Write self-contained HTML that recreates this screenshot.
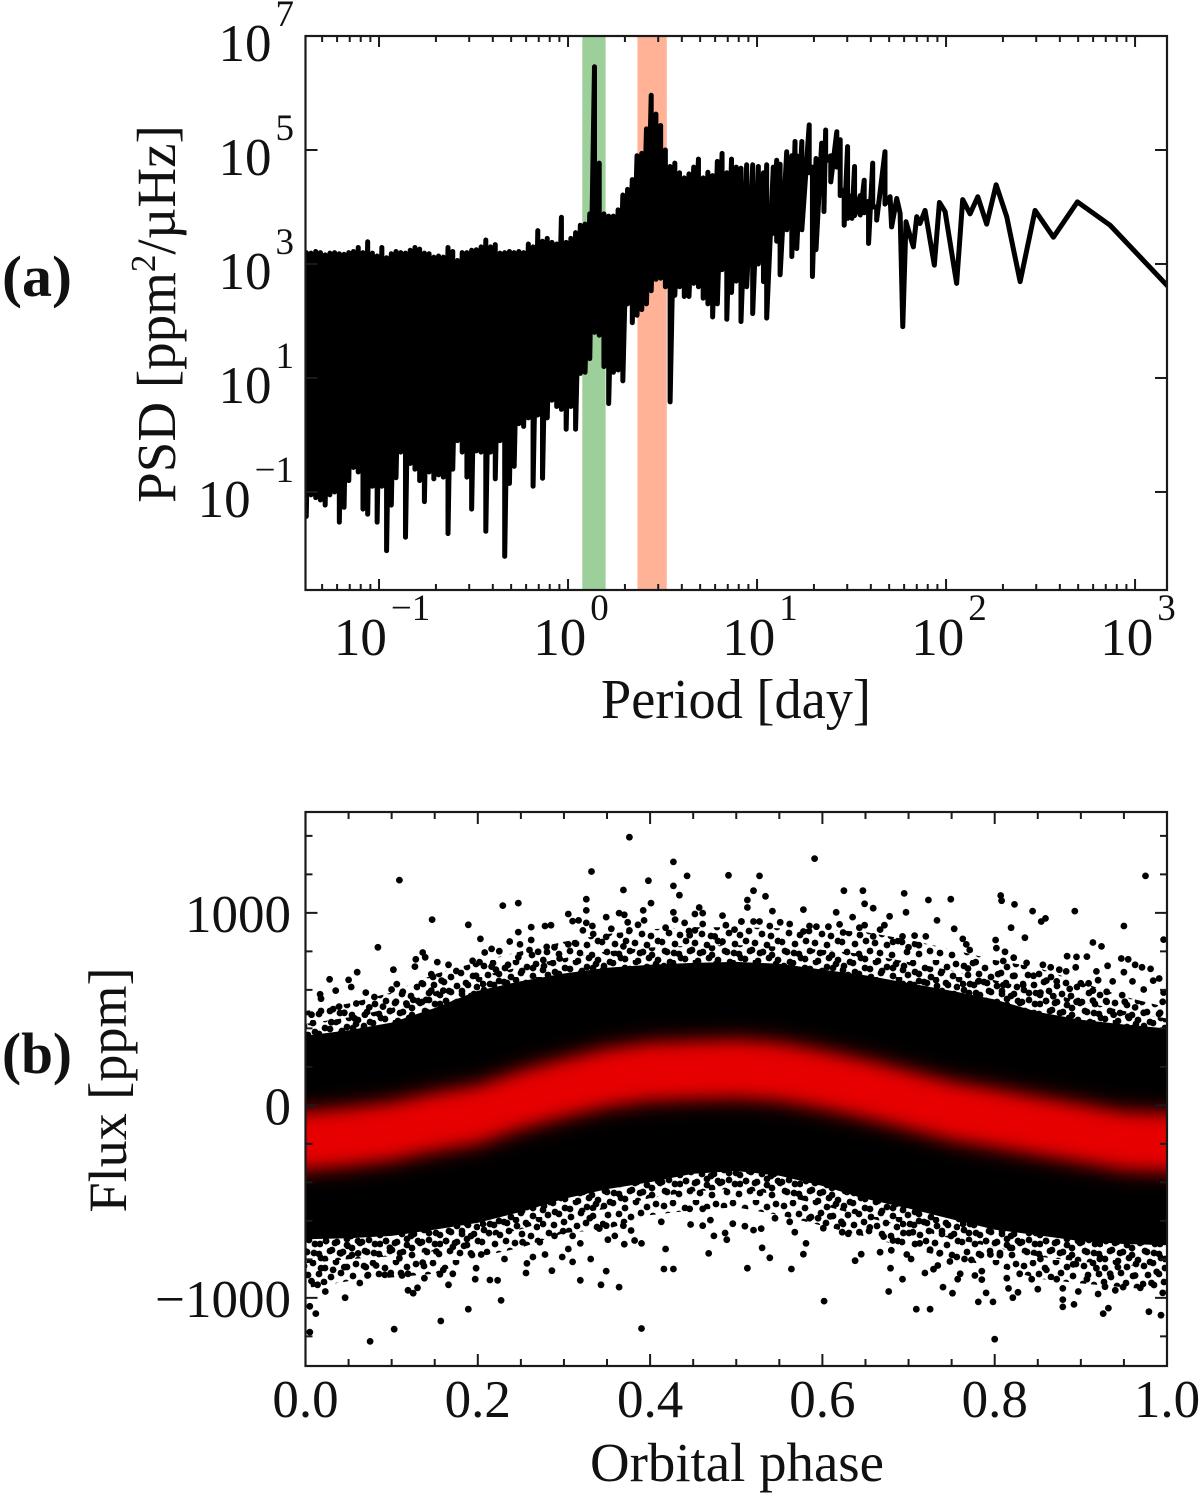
<!DOCTYPE html>
<html lang="en">
<head>
<meta charset="utf-8">
<title>PSD and phase-folded flux</title>
<style>
html,body{margin:0;padding:0;background:#fff;width:1200px;height:1493px;overflow:hidden}
svg{display:block}
text{font-family:"Liberation Serif",serif;fill:#111}
</style>
</head>
<body>
<svg id="figure" xmlns="http://www.w3.org/2000/svg" width="1200" height="1493" viewBox="0 0 1200 1493">
  <defs>
    <clipPath id="clip-a"><rect x="305.5" y="36" width="861.5" height="554"/></clipPath>
    <clipPath id="clip-b"><rect x="305.5" y="812" width="861.5" height="554"/></clipPath>
    <filter id="red-soft" x="-5%" y="-40%" width="110%" height="180%"><feGaussianBlur stdDeviation="8"/></filter>
    <filter id="red-softer" x="-5%" y="-40%" width="110%" height="180%"><feGaussianBlur stdDeviation="9"/></filter>
    <pattern id="cloud-dots" patternUnits="userSpaceOnUse" width="60" height="60">
      <g fill="#000">
        <circle cx="4" cy="6" r="3.4"/><circle cx="13" cy="3" r="3.4"/><circle cx="25" cy="8" r="3.4"/><circle cx="36" cy="2" r="3.4"/><circle cx="47" cy="7" r="3.4"/><circle cx="56" cy="4" r="3.4"/>
        <circle cx="8" cy="15" r="3.4"/><circle cx="19" cy="14" r="3.4"/><circle cx="31" cy="17" r="3.4"/><circle cx="41" cy="13" r="3.4"/><circle cx="53" cy="16" r="3.4"/>
        <circle cx="3" cy="24" r="3.4"/><circle cx="14" cy="25" r="3.4"/><circle cx="24" cy="22" r="3.4"/><circle cx="37" cy="26" r="3.4"/><circle cx="46" cy="23" r="3.4"/><circle cx="57" cy="27" r="3.4"/>
        <circle cx="9" cy="33" r="3.4"/><circle cx="20" cy="35" r="3.4"/><circle cx="29" cy="31" r="3.4"/><circle cx="42" cy="34" r="3.4"/><circle cx="51" cy="36" r="3.4"/>
        <circle cx="2" cy="42" r="3.4"/><circle cx="15" cy="44" r="3.4"/><circle cx="26" cy="41" r="3.4"/><circle cx="35" cy="43" r="3.4"/><circle cx="47" cy="45" r="3.4"/><circle cx="58" cy="41" r="3.4"/>
        <circle cx="7" cy="52" r="3.4"/><circle cx="19" cy="54" r="3.4"/><circle cx="30" cy="51" r="3.4"/><circle cx="40" cy="53" r="3.4"/><circle cx="52" cy="55" r="3.4"/>
      </g>
    </pattern>
    <pattern id="cloud-dots-shifted" href="#cloud-dots" patternTransform="translate(23,17)"/>
  </defs>
  <g id="panel-a">
    <g id="a-bands" clip-path="url(#clip-a)"></g>
    <g id="a-line" clip-path="url(#clip-a)"></g>
    <g id="a-ticks"></g>
    <rect x="305.5" y="36" width="861.5" height="554" fill="none" stroke="#1a1a1a" stroke-width="2.2"/>
    <g id="a-labels"></g>
    <text x="736" y="718" font-size="56" text-anchor="middle" textLength="270" lengthAdjust="spacingAndGlyphs">Period [day]</text>
    <text transform="translate(175,314) rotate(-90)" font-size="55" text-anchor="middle">PSD [ppm<tspan font-size="35" dy="-20">2</tspan><tspan dy="20">/µHz]</tspan></text>
    <text x="2" y="296" font-size="58" font-weight="bold" textLength="70" lengthAdjust="spacingAndGlyphs">(a)</text>
  </g>
  <g id="panel-b">
    <g id="b-marks" clip-path="url(#clip-b)"></g>
    <g id="b-ticks"></g>
    <rect x="305.5" y="812" width="861.5" height="554" fill="none" stroke="#1a1a1a" stroke-width="2.2"/>
    <g id="b-labels"></g>
    <text x="737" y="1481" font-size="55" text-anchor="middle" textLength="294" lengthAdjust="spacingAndGlyphs">Orbital phase</text>
    <text transform="translate(126,1090) rotate(-90)" font-size="54" text-anchor="middle" textLength="245" lengthAdjust="spacingAndGlyphs">Flux [ppm]</text>
    <text x="2" y="1073" font-size="58" font-weight="bold" textLength="70" lengthAdjust="spacingAndGlyphs">(b)</text>
  </g>
</svg>
<script>
/* ---------- Panel (a): periods and PSD as log10 values ---------- */
const greenBandDays = [1.19, 1.58];
const orangeBandDays = [2.33, 3.33];
const psdDecadeTicks = [7, 5, 3, 1, -1];
const periodDecadeTicks = [-1, 0, 1, 2, 3];
const periodMinorDecades = [-2, -1, 0, 1, 2, 3];
const periodMinorMultipliers = [2, 3, 4, 5, 6, 7, 8, 9];

const denseLogPeriod = [
-1.385,-1.36,-1.335,-1.31,-1.285,-1.26,-1.235,-1.21,-1.185,-1.16,
-1.135,-1.11,-1.085,-1.06,-1.035,-1.01,-0.985,-0.96,-0.935,-0.91,
-0.885,-0.86,-0.835,-0.81,-0.785,-0.76,-0.735,-0.71,-0.685,-0.66,
-0.635,-0.61,-0.585,-0.56,-0.535,-0.51,-0.485,-0.46,-0.435,-0.41,
-0.385,-0.36,-0.335,-0.31,-0.285,-0.26,-0.235,-0.21,-0.185,-0.16,
-0.135,-0.11,-0.085,-0.06,-0.035,-0.01,0.015,0.04,0.065,0.09,
0.115,0.14,0.165,0.19,0.215,0.24,0.265,0.29,0.315,0.34,
0.365,0.39,0.415,0.44,0.465,0.49,0.515,0.54,0.565,0.59,
0.615,0.64,0.665,0.69,0.715,0.74,0.765,0.79,0.815,0.84,
0.865,0.89,0.915,
0.945,0.977,1.007,1.034,1.051,1.086,1.104,1.122,1.157,1.184,1.201,1.21,1.237,1.276,1.293,1.312,
1.342,1.354,1.363,1.39,1.422,1.44,1.461,1.479,1.502,1.516,1.546,1.567,1.59,1.612,1.633,1.677];
const denseLogPsdHigh = [
3.2,3.19,3.22,3.2,3.16,3.19,3.2,3.18,3.17,3.2,
3.22,3.29,3.2,3.39,3.19,3.14,3.29,3.11,3.18,3.22,
3.2,3.19,3.24,3.29,3.26,3.19,3.18,3.12,3.14,3.12,
3.29,3.22,3.06,3.2,3.2,3.24,3.25,3.3,3.42,3.3,
3.34,3.19,3.2,3.22,3.2,3.22,3.2,3.35,3.3,3.585,
3.4,3.45,3.38,3.35,3.82,3.38,3.45,3.55,3.68,3.7,
3.88,6.46,4.77,3.88,3.84,3.84,3.95,4.21,4.31,4.48,
4.9,4.94,5.37,5.96,5.63,5.43,5.0,4.71,4.77,4.6,
4.51,4.58,4.7,4.84,4.51,4.61,4.55,4.8,4.94,4.6,
4.84,4.7,4.68,
4.74,4.74,4.71,4.6,4.74,4.7,4.82,4.75,4.97,4.9,5.15,4.9,5.15,5.44,4.7,4.85,
5.12,4.9,5.35,4.9,5.32,5.18,4.3,5.06,4.2,4.71,4.2,4.47,4.1,4.77,4.0,4.97];
const denseLogPsdLow = [
-1.43,-1.05,-1.1,-1.14,-1.23,-1.05,-1.0,-1.53,-1.27,-0.8,
-0.57,-0.65,-1.3,-1.39,-0.9,-1.53,-0.9,-2.03,-1.23,-0.75,
-0.3,-1.795,-0.5,-0.6,-0.8,-1.17,-0.65,-0.77,-0.7,-0.74,
-1.73,-0.6,-0.1,-0.3,-0.74,-1.3,-0.28,-0.3,-1.69,-0.3,
-0.77,-0.1,-2.13,-0.85,-0.55,0.2,0.15,0.3,-0.9,0.35,
-0.76,0.3,0.61,0.5,0.45,0.1,0.5,0.1,1.08,1.1,
1.34,1.8,1.75,1.2,0.55,1.1,1.14,0.95,2.3,1.97,
2.1,2.2,2.3,2.53,2.73,2.75,2.6,0.58,2.45,2.6,
2.43,2.43,2.66,2.6,2.4,2.3,2.07,2.3,2.9,2.03,
2.5,2.7,1.99,
2.6,2.13,3.0,2.69,2.05,3.54,3.4,2.81,3.6,3.13,3.4,3.27,3.6,4.6,2.78,3.25,
4.6,3.92,4.8,4.44,4.7,4.2,3.68,3.8,3.8,3.85,3.86,3.9,3.36,4.0,3.77,4.05];
const tailLogPeriod = [1.704,1.712,1.739,1.757,1.771,1.788,1.827,1.845,1.862,1.889,1.938,1.965,1.995,2.056,2.088,2.127,2.168,2.215,2.265,2.321,2.392,2.471,2.568,2.695,2.868,3.176];
const tailLogPsd = [4.18,3.65,4.15,3.89,1.9,3.74,3.3,3.83,3.71,3.94,2.98,4.08,3.92,2.66,4.13,3.88,4.18,3.7,4.39,3.83,2.69,3.94,3.47,4.09,3.68,2.6];

/* ---------- Panel (b): orbital phase vs flux ---------- */
const phaseMajorTicks = ["0.0", "0.2", "0.4", "0.6", "0.8", "1.0"];
const phaseMinorTicks = [0.05,0.1,0.15,0.25,0.3,0.35,0.45,0.5,0.55,0.65,0.7,0.75,0.85,0.9,0.95];
const fluxMajorTicks = [1000, 0, -1000];
const fluxMinorTicks = [1400,1200,800,600,400,200,-200,-400,-600,-800,-1200];

const bandPhase = [0,0.05,0.1,0.15,0.2,0.25,0.3,0.35,0.4,0.45,0.5,0.55,0.6,0.65,0.7,0.75,0.8,0.85,0.9,0.95,1];
const cloudFluxUpper = [490,529,586,682,745,800,850,890,915,925,925,920,915,900,860,810,755,715,640,565,509];
const cloudFluxLower = [-951,-913,-894,-875,-788,-740,-663,-644,-570,-545,-529,-570,-625,-682,-740,-798,-836,-900,-925,-945,-965];
const denseFluxUpper = [356,385,425,500,590,640,680,710,725,735,740,730,700,670,630,590,545,480,440,415,394];
const denseFluxLower = [-690,-685,-673,-640,-605,-548,-480,-430,-394,-350,-336,-360,-413,-480,-530,-586,-640,-670,-700,-715,-721];
const binnedFluxCenter = [-183,-163,-135,-86,-48,30,90,144,175,183,190,175,135,86,29,-29,-67,-106,-144,-183,-192];
const binnedFluxHalfSpread = [145,145,145,145,145,145,145,145,145,145,145,145,145,145,145,145,145,145,145,145,145];

const outlierPhase = [
.376,.332,.427,.443,.491,.109,.398,.427,.369,.434,.326,.229,.247,.401,.326,.392,.427,.457,.461,.305,
.364,.370,.349,.484,.147,.506,.189,.317,.374,.393,.429,.452,.440,.262,.278,.285,.310,.326,.333,.386,
.461,.247,.322,.376,.418,.452,.488,.498,.355,.203,.237,.249,.262,.305,.314,.084,.216,.225,.208,.260,
.270,.280,.289,.369,.349,.334,.446,.475,.484,.136,.128,.139,.153,.127,.194,.202,.247,.295,.102,.166,
.216,.235,.276,.060,.146,.028,.050,.053,.106,.135,.158,.148,.035,.017,.070,.080,.100,.113,.146,.160,
.175,.198,.221,.018,.039,.059,.105,.125,.018,.032,.045,.074,.090,.117,.140,.007,.030,.057,.069,.098,
.390,.075,.103,.157,.189,.227,.046,.012,.005,.005,.023,.119,.125,.130,.138,.166,.171,.156,.160,.197,
.198,.214,.223,.256,.257,.264,.278,.286,.298,.305,.310,.319,.331,.343,.349,.364,.416,.427,.418,.468,
.513,.382,.390,.370,.351,.359,.319,.310,.289,.272,.252,.231,.204,.192,.184,.082,.072,.063,.092,.099,
.112,.119,.032,.045,.014,.007,.018,.061,.070,.041,.049,.098,.109,.136,.152,.171,.447,.461,.470,.474,
.487,.489,.496,.510,.413,.446,.461,.369,.378,.349,.341,.330,.299,
.591,.527,.975,.625,.647,.520,.534,.695,.513,.723,.749,.807,.808,.823,.649,.659,.513,.542,.578,.616,
.697,.844,.893,.854,.859,.678,.635,.733,.506,.520,.527,.551,.562,.539,.585,.593,.607,.620,.649,.643,
.672,.819,.950,.753,.578,.624,.667,.835,.763,.801,.693,.707,.720,.996,.914,.924,.767,.771,.802,.812,
.682,.659,.712,.700,.884,.895,.907,.947,.955,.822,.810,.837,.856,.778,.963,.971,.981,.894,.865,.769,
.931,.918,.950,.883,.875,.845,.804,.823,.991,.984,.960,.937,.920,.900,.909,.973,.860,.872,.833,.996,
.995,.948,.930,.914,.887,.853,.810,.781,.973,.963,.951,.930,.914,.895,.868,.938,.955,.992,
.800,.602,.926,.932,.979,.993,.879,.879,.892,.709,.725,.781,.798,.790,.751,.740,.677,.995,.821,.827,
.816,.850,.879,.897,.920,.940,.928,.949,.969,.982,.814,.785,.757,.693,.760,.777,.785,.719,.729,.734,
.679,.638,.645,.578,.581,.539,.564,.530,.667,.680,.698,.703,.748,.765,.773,.784,.795,.520,.529,.568,
.601,.623,.630,.643,.671,.682,.705,.713,.725,.736,.756,.829,.843,.860,.872,.907,.918,.934,.943,.963,
.988,.545,.562,.585,.595,.609,.622,.655,.694,.806,.818,.853,.891,.922];
const outlierFlux = [
1393,1215,1265,1192,1195,1170,1167,1140,1119,1092,1071,1038,1051,1051,1013,1013,1003,1028,999,994,
999,990,978,986,965,955,938,961,951,961,965,994,948,926,932,936,957,948,932,938,
942,900,909,909,923,909,936,913,917,865,851,836,859,836,840,821,813,801,794,807,
798,823,821,826,875,890,884,878,851,794,759,769,744,721,751,744,769,763,705,730,
721,730,755,692,682,655,652,615,630,634,648,667,596,577,586,563,602,590,596,596,
698,673,705,554,513,529,538,548,490,500,481,509,513,529,548,471,432,452,471,490,
-1159,-1226,-1163,-1120,-1059,-1013,-999,-1082,-1044,-1178,-967,-961,-976,-948,-898,-932,-875,-878,-855,-903,
-846,-907,-909,-871,-821,-788,-775,-859,-788,-746,-813,-909,-798,-932,-861,-944,-850,-850,-746,-769,
-846,-702,-717,-721,-698,-678,-717,-678,-678,-711,-711,-798,-775,-769,-730,-832,-884,-923,-880,-871,
-884,-875,-855,-840,-932,-913,-846,-769,-840,-769,-730,-740,-794,-817,-759,-736,-619,-625,-596,-678,
-663,-698,-615,-628,-605,-538,-538,-625,-650,-625,-640,-586,-653,
1282,1192,1192,1115,1115,1115,1086,1101,1067,1067,1071,1090,1063,1044,1047,1024,1028,1009,1017,1003,
1003,1009,1009,955,971,982,978,961,955,955,955,951,942,932,932,928,928,940,936,923,
936,923,932,917,903,898,913,871,865,859,878,882,878,861,846,826,836,807,817,798,
849,878,832,821,775,771,773,763,759,767,750,740,730,744,730,717,709,717,717,711,
725,696,692,696,705,673,682,673,659,648,644,644,650,634,634,602,648,644,625,586,
538,573,590,596,605,586,625,644,481,509,538,538,544,538,567,471,461,481,
-1215,-1017,-1082,-1053,-1072,-1090,-1047,-1009,-1034,-1059,-1059,-1021,-1021,-974,-976,-944,-967,-974,-999,-971,
-951,-955,-951,-967,-980,-961,-942,-944,-948,-923,-898,-905,-903,-903,-875,-884,-861,-871,-851,-832,
-846,-807,-773,-773,-717,-792,-850,-740,-763,-753,-775,-798,-811,-798,-803,-778,-775,-648,-640,-659,
-638,-659,-667,-659,-682,-702,-659,-717,-750,-769,-788,-875,-903,-855,-903,-903,-846,-875,-840,-884,
-865,-586,-605,-586,-586,-577,-605,-634,-663,-778,-740,-798,-826,-798];

/* ---------- Axis functions ---------- */
const FRAME = {left: 305.5, right: 1167, topA: 36, bottomA: 590, topB: 812, bottomB: 1366};
const LOG_PERIOD_MIN = -1.389, LOG_PERIOD_MAX = 3.169;
const LOG_PSD_MAX = 7, LOG_PSD_MIN = -2.72;
const FLUX_MAX = 1524, FLUX_MIN = -1354;
function xPeriod(logP){ return FRAME.left + (logP - LOG_PERIOD_MIN) / (LOG_PERIOD_MAX - LOG_PERIOD_MIN) * (FRAME.right - FRAME.left); }
function yPsd(logV){ return FRAME.topA + (LOG_PSD_MAX - logV) / (LOG_PSD_MAX - LOG_PSD_MIN) * (FRAME.bottomA - FRAME.topA); }
function xPhase(p){ return FRAME.left + p * (FRAME.right - FRAME.left); }
function yFlux(f){ return FRAME.topB + (FLUX_MAX - f) / (FLUX_MAX - FLUX_MIN) * (FRAME.bottomB - FRAME.topB); }

const SVG_NS = "http://www.w3.org/2000/svg";
function make(parent, tag, attrs){
  const el = document.createElementNS(SVG_NS, tag);
  for (const k in attrs) el.setAttribute(k, attrs[k]);
  parent.appendChild(el);
  return el;
}
function tickLine(parent, x1, y1, x2, y2){
  return make(parent, "line", {x1: x1, y1: y1, x2: x2, y2: y2, stroke: "#1a1a1a", "stroke-width": 2});
}
function powerLabel(parent, x, y, anchor, exponent){
  const t = make(parent, "text", {x: x, y: y, "font-size": 53, "text-anchor": anchor});
  t.appendChild(document.createTextNode("10"));
  const s = make(t, "tspan", {"font-size": 37, dy: -35, dx: 4});
  s.textContent = String(exponent).replace("-", "\u2212");
  return t;
}

/* ---------- Panel (a) marks ---------- */
const bandsGroup = document.getElementById("a-bands");
const greenBand = make(bandsGroup, "rect", {x: xPeriod(Math.log10(greenBandDays[0])), y: FRAME.topA, width: xPeriod(Math.log10(greenBandDays[1])) - xPeriod(Math.log10(greenBandDays[0])), height: FRAME.bottomA - FRAME.topA, fill: "#9ccf9a"});


const orangeBand = make(bandsGroup, "rect", {x: xPeriod(Math.log10(orangeBandDays[0])), y: FRAME.topA, width: xPeriod(Math.log10(orangeBandDays[1])) - xPeriod(Math.log10(orangeBandDays[0])), height: FRAME.bottomA - FRAME.topA, fill: "#ffb296"});



let psdPath = "";
denseLogPeriod.forEach(function(p, i){
  const x = xPeriod(p).toFixed(2);
  psdPath += (i ? "L" : "M") + x + " " + yPsd(denseLogPsdHigh[i]).toFixed(2) + "L" + x + " " + yPsd(denseLogPsdLow[i]).toFixed(2);
});
tailLogPeriod.forEach(function(p, i){
  psdPath += "L" + xPeriod(p).toFixed(2) + " " + yPsd(tailLogPsd[i]).toFixed(2);
});
const psdLine = make(document.getElementById("a-line"), "path", {d: psdPath, fill: "none", stroke: "#000", "stroke-width": 5, "stroke-linejoin": "round", "stroke-linecap": "round"});



/* ---------- Panel (a) ticks ---------- */
const aTicks = document.getElementById("a-ticks");
const aLabels = document.getElementById("a-labels");
psdDecadeTicks.forEach(function(e){
  const y = yPsd(e);
  tickLine(aTicks, FRAME.left, y, FRAME.left + 12, y);
  tickLine(aTicks, FRAME.right, y, FRAME.right - 12, y);
  const label = powerLabel(aLabels, 294, y + 25, "end", e);
  
  
});
periodDecadeTicks.forEach(function(e){
  const x = xPeriod(e);
  tickLine(aTicks, x, FRAME.bottomA, x, FRAME.bottomA - 11);
  tickLine(aTicks, x, FRAME.topA, x, FRAME.topA + 11);
  const label = powerLabel(aLabels, x + 3, 655, "middle", e);
  
  
});
periodMinorDecades.forEach(function(d){
  periodMinorMultipliers.forEach(function(m){
    const lp = d + Math.log10(m);
    if (lp < LOG_PERIOD_MIN || lp > LOG_PERIOD_MAX) return;
    const x = xPeriod(lp);
    tickLine(aTicks, x, FRAME.bottomA, x, FRAME.bottomA - 6);
    tickLine(aTicks, x, FRAME.topA, x, FRAME.topA + 6);
  });
});

/* ---------- Panel (b) marks ---------- */
const bMarks = document.getElementById("b-marks");
function bandPolygon(upper, lower){
  const top = bandPhase.map(function(p, i){ return xPhase(p).toFixed(1) + "," + yFlux(upper[i]).toFixed(1); });
  const bottom = bandPhase.map(function(p, i){ return xPhase(p).toFixed(1) + "," + yFlux(lower[i]).toFixed(1); }).reverse();
  return top.concat(bottom).join(" ");
}
const outerCloud = make(bMarks, "polygon", {points: bandPolygon(cloudFluxUpper, cloudFluxLower), fill: "url(#cloud-dots)"});


const innerUpper = cloudFluxUpper.map(function(v, i){ return (v + denseFluxUpper[i]) / 2; });
const innerLower = cloudFluxLower.map(function(v, i){ return (v + denseFluxLower[i]) / 2; });
const innerCloud = make(bMarks, "polygon", {points: bandPolygon(innerUpper, innerLower), fill: "url(#cloud-dots-shifted)"});


const denseMass = make(bMarks, "polygon", {points: bandPolygon(denseFluxUpper, denseFluxLower), fill: "#000", stroke: "#000", "stroke-width": 2, "stroke-linejoin": "round"});


outlierPhase.forEach(function(p, i){
  if (outlierFlux[i] === undefined) return;
  const c = make(bMarks, "circle", {cx: xPhase(p).toFixed(1), cy: yFlux(outlierFlux[i]).toFixed(1), r: 3.4, fill: "#000"});
  
  
});
function redBandPoints(scale){
  const n = bandPhase.length - 1;
  const edgeL = xPhase(0) - 30, edgeR = xPhase(1) + 30;
  const top = bandPhase.map(function(p, i){ return xPhase(p).toFixed(1) + "," + yFlux(binnedFluxCenter[i] + binnedFluxHalfSpread[i] * scale).toFixed(1); });
  const bottom = bandPhase.map(function(p, i){ return xPhase(p).toFixed(1) + "," + yFlux(binnedFluxCenter[i] - binnedFluxHalfSpread[i] * scale).toFixed(1); }).reverse();
  const lead = edgeL + "," + yFlux(binnedFluxCenter[0] + binnedFluxHalfSpread[0] * scale).toFixed(1);
  const leadB = edgeL + "," + yFlux(binnedFluxCenter[0] - binnedFluxHalfSpread[0] * scale).toFixed(1);
  const trail = edgeR + "," + yFlux(binnedFluxCenter[n] + binnedFluxHalfSpread[n] * scale).toFixed(1);
  const trailB = edgeR + "," + yFlux(binnedFluxCenter[n] - binnedFluxHalfSpread[n] * scale).toFixed(1);
  return [lead].concat(top, [trail, trailB], bottom, [leadB]).join(" ");
}
const redHalo = make(bMarks, "polygon", {points: redBandPoints(1.4), fill: "#c00000", opacity: 0.22, filter: "url(#red-softer)"});


const redBand = make(bMarks, "polygon", {points: redBandPoints(1), fill: "#e60000", filter: "url(#red-soft)"});



/* ---------- Panel (b) ticks ---------- */
const bTicks = document.getElementById("b-ticks");
const bLabels = document.getElementById("b-labels");
phaseMajorTicks.forEach(function(s){
  const x = xPhase(parseFloat(s));
  tickLine(bTicks, x, FRAME.bottomB, x, FRAME.bottomB - 12);
  tickLine(bTicks, x, FRAME.topB, x, FRAME.topB + 12);
  const t = make(bLabels, "text", {x: x, y: 1417, "font-size": 53, "text-anchor": "middle"});
  t.textContent = s;
  
  
});
phaseMinorTicks.forEach(function(p){
  const x = xPhase(p);
  tickLine(bTicks, x, FRAME.bottomB, x, FRAME.bottomB - 7);
  tickLine(bTicks, x, FRAME.topB, x, FRAME.topB + 7);
});
fluxMajorTicks.forEach(function(f){
  const y = yFlux(f);
  tickLine(bTicks, FRAME.left, y, FRAME.left + 12, y);
  tickLine(bTicks, FRAME.right, y, FRAME.right - 12, y);
  const t = make(bLabels, "text", {x: 291, y: y + 19, "font-size": 53, "text-anchor": "end"});
  t.textContent = String(f).replace("-", "\u2212");
  
  
});
fluxMinorTicks.forEach(function(f){
  const y = yFlux(f);
  tickLine(bTicks, FRAME.left, y, FRAME.left + 7, y);
  tickLine(bTicks, FRAME.right, y, FRAME.right - 7, y);
});
</script>
</body>
</html>
